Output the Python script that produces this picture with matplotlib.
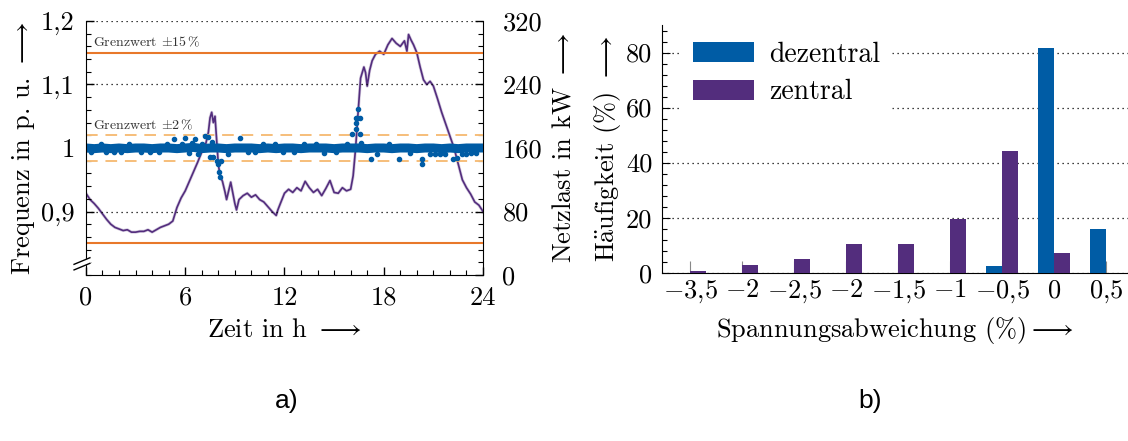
import matplotlib
matplotlib.use("Agg")
import matplotlib.pyplot as plt
from matplotlib.ticker import MultipleLocator

plt.rcParams["font.family"] = ["cmr10", "DejaVu Serif"]
plt.rcParams["mathtext.fontset"] = "cm"
plt.rcParams["axes.unicode_minus"] = False

# --- a) Frequenz und Netzlast ueber den Tag ---
load_t = [0.0, 0.25, 0.5, 0.75, 1.0, 1.25, 1.5, 1.75, 2.0, 2.25, 2.5, 2.75, 3.0, 3.25, 3.5, 3.75,
          4.0, 4.25, 4.5, 4.75, 5.0, 5.25, 5.5, 5.75, 6.0, 6.25, 6.5, 6.75, 7.0, 7.25, 7.4, 7.5,
          7.6, 7.7, 7.8, 7.9, 8.0, 8.1, 8.25, 8.4, 8.5, 8.75, 9.0, 9.1, 9.25, 9.5, 9.75, 10.0,
          10.25, 10.5, 10.75, 11.0, 11.25, 11.5, 11.6, 11.75, 12.0, 12.25, 12.5, 12.75, 13.0,
          13.25, 13.5, 13.75, 14.0, 14.25, 14.5, 14.75, 15.0, 15.25, 15.5, 15.75, 16.0, 16.15,
          16.3, 16.45, 16.6, 16.8, 16.9, 17.0, 17.15, 17.3, 17.5, 17.75, 18.0, 18.25, 18.5,
          18.75, 19.0, 19.25, 19.4, 19.5, 19.65, 19.8, 20.0, 20.2, 20.4, 20.6, 20.8, 21.0,
          21.25, 21.5, 21.75, 22.0, 22.25, 22.5, 22.75, 23.0, 23.25, 23.5, 23.75, 24.0]
load_kw = [103, 95, 90, 84, 77, 70, 64, 60, 58, 56, 57, 54, 54, 55, 55, 57,
           54, 57, 60, 62, 64, 68, 85, 97, 106, 118, 130, 142, 155, 166, 180, 198,
           205, 192, 200, 170, 140, 125, 118, 105, 95, 117, 90, 82, 95, 100, 103, 98,
           101, 95, 92, 86, 80, 75, 82, 90, 103, 108, 104, 110, 106,
           118, 110, 104, 108, 100, 109, 119, 104, 103, 110, 106, 108, 125,
           160, 205, 248, 262, 255, 238, 258, 270, 278, 282, 278, 290, 298,
           292, 288, 295, 282, 303, 296, 290, 280, 262, 246, 240, 244, 238,
           222, 205, 190, 175, 160, 140, 120, 110, 102, 92, 88, 80]

freq_t = [0.0, 0.5, 1.0, 1.5, 2.0, 2.5, 3.0, 3.5, 4.0, 4.5, 5.0, 5.5, 6.0, 6.5, 7.0, 7.5,
          8.0, 8.5, 9.0, 9.5, 10.0, 10.5, 11.0, 11.5, 12.0, 12.5, 13.0, 13.5, 14.0, 14.5,
          15.0, 15.5, 16.0, 16.5, 17.0, 17.5, 18.0, 18.5, 19.0, 19.5, 20.0, 20.5, 21.0,
          21.5, 22.0, 22.5, 23.0, 23.5, 24.0]
freq_v = [1.000, 0.999, 1.000, 0.999, 1.000, 0.999, 1.000, 1.000, 0.999, 1.000, 1.000, 0.999,
          1.000, 1.001, 0.999, 1.000, 1.000, 0.999, 1.000, 1.000, 1.000, 0.999, 1.000, 0.999,
          1.000, 1.000, 0.999, 1.000, 1.000, 1.000, 0.999, 1.000, 1.000, 1.000, 0.999, 1.000,
          1.000, 0.999, 1.000, 1.000, 0.999, 1.000, 1.000, 0.999, 1.000, 0.999, 1.000, 1.000,
          1.000]

freq_out_t = [0.3, 0.9, 1.2, 1.7, 2.1, 2.6, 3.3, 3.9, 4.4, 4.9, 5.3, 5.8, 6.0, 6.2, 6.4, 6.6,
              6.8, 7.0, 7.2, 7.4, 7.6, 7.5, 7.7, 7.9, 8.0, 8.05, 8.1, 8.15, 8.6, 9.3, 9.8,
              10.2, 10.7, 11.4, 11.9, 12.6, 13.2, 13.9, 14.4, 15.1, 15.8, 16.06, 16.3, 16.3,
              16.35, 16.4, 16.47, 16.56, 16.56, 16.6, 17.2, 17.6, 18.3, 18.9, 19.6, 20.3, 20.3,
              20.8, 21.1, 21.4, 21.7, 22.2, 22.4, 22.7, 23.0, 23.3, 23.6]
freq_out_v = [0.993, 1.006, 0.994, 0.993, 0.993, 1.006, 0.994, 0.993, 0.993, 1.006, 1.014,
              1.006, 1.016, 0.992, 1.008, 1.014, 0.990, 1.007, 1.019, 1.017, 1.009, 0.986,
              0.986, 0.980, 0.975, 0.962, 0.954, 0.980, 0.991, 1.015, 0.993, 0.993, 1.006,
              1.006, 0.993, 0.993, 1.006, 1.006, 0.992, 0.993, 1.007, 1.022, 1.030, 1.040,
              1.048, 1.047, 1.061, 1.047, 1.022, 1.008, 0.983, 0.990, 1.007, 0.983, 0.992,
              0.975, 0.983, 0.991, 0.991, 0.990, 0.990, 0.982, 0.985, 0.991, 0.991, 0.992,
              0.992]

# --- b) Haeufigkeit der Spannungsabweichung ---
categories = ["$-3{,}5$", "$-2$", "$-2{,}5$", "$-2$", "$-1{,}5$", "$-1$", "$-0{,}5$", "$0$", "$0{,}5$"]
dezentral = [0, 0, 0, 0, 0, 0, 2.4, 81.6, 15.9]
zentral = [0.6, 2.8, 5.0, 10.4, 10.3, 19.5, 44.3, 7.0, 0]

c_blue = "#005CA5"
c_purple = "#532D7D"
c_orange = "#E8782A"
c_lorange = "#F6BE7A"
fs = 19

fig = plt.figure(figsize=(11.28, 4.41), dpi=100)

# left chart
ax = fig.add_axes([0.0762, 0.3764, 0.352, 0.576])
ax2 = ax.twinx()
ax.set_zorder(ax2.get_zorder() + 1)
ax.patch.set_visible(False)

ax2.plot(load_t, load_kw, color=c_purple, linewidth=2.2, alpha=0.25)
ax2.plot(load_t, load_kw, color=c_purple, linewidth=1.2)
ax2.set_ylim(0, 320)
ax2.set_yticks([0, 80, 160, 240, 320])
ax2.yaxis.set_minor_locator(MultipleLocator(16))

ax.axhline(1.15, color=c_orange, linewidth=1.5)
ax.axhline(0.85, color=c_orange, linewidth=1.5)
ax.axhline(1.02, color=c_lorange, linewidth=1.4, dashes=(6, 4))
ax.axhline(0.98, color=c_lorange, linewidth=1.4, dashes=(6, 4))
ax.plot(freq_t, freq_v, color=c_blue, linewidth=6.5, solid_capstyle="butt")
ax.plot(freq_out_t, freq_out_v, "o", color=c_blue, markersize=3, linestyle="none")

ax.set_xlim(0, 24)
ax.set_ylim(0.8, 1.2)
ax.set_xticks([0, 6, 12, 18, 24])
ax.xaxis.set_minor_locator(MultipleLocator(1))
ax.set_yticks([0.9, 1.0, 1.1, 1.2])
ax.set_yticklabels(["0,9", "1", "1,1", "1,2"])
ax.yaxis.set_minor_locator(MultipleLocator(0.02))
ax.grid(axis="y", which="major", color="black", linestyle=(0, (1, 3)), linewidth=0.9)

for a in (ax, ax2):
    a.spines["top"].set_visible(False)
    a.tick_params(direction="in", which="major", length=6, width=1.0, labelsize=fs)
    a.tick_params(direction="in", which="minor", length=3.5, width=0.8)
ax.tick_params(axis="x", pad=8)
ax.tick_params(axis="y", pad=8)
ax2.tick_params(axis="y", pad=14)
ax2.spines["left"].set_visible(False)
ax2.spines["bottom"].set_visible(False)
ax.spines["right"].set_visible(False)

ax.text(0.45, 1.16, "Grenzwert $\\pm$15$\\,$%", fontsize=10, color="#333333")
ax.text(0.45, 1.03, "Grenzwert $\\pm$2$\\,$%", fontsize=10, color="#333333")

ax.set_xlabel("Zeit in h $\\longrightarrow$", fontsize=fs, labelpad=6)
ax.set_ylabel("Frequenz in p. u. $\\longrightarrow$", fontsize=fs, labelpad=3)
ax2.set_ylabel("Netzlast in kW $\\longrightarrow$", fontsize=fs, labelpad=7)

# axis break marker
ax.plot([-0.03, 0.01], [0.025, 0.058], transform=ax.transAxes, color="white",
        linewidth=4, clip_on=False, zorder=10)
for dy in (0.0, 0.022):
    ax.plot([-0.03, 0.01], [0.02 + dy, 0.046 + dy], transform=ax.transAxes, color="black",
            linewidth=1.0, clip_on=False, zorder=11)

# right chart
bx = fig.add_axes([0.5869, 0.3816, 0.4131, 0.5617])
pos = list(range(len(categories)))
w = 0.31
bx.bar([p - w / 2 for p in pos], dezentral, width=w, color=c_blue, label="dezentral", zorder=3)
bx.bar([p + w / 2 for p in pos], zentral, width=w, color=c_purple, label="zentral", zorder=3)
bx.set_xlim(-0.54, 8.42)
bx.set_ylim(0, 90)
bx.set_xticks(pos)
bx.set_xticklabels(categories)
bx.set_yticks([0, 20, 40, 60, 80])
bx.yaxis.set_minor_locator(MultipleLocator(4))
bx.grid(axis="y", which="major", color="black", linestyle=(0, (1, 3)), linewidth=0.9, zorder=0)
bx.spines["top"].set_visible(False)
bx.spines["right"].set_visible(False)
bx.tick_params(axis="y", direction="in", which="major", length=6, labelsize=fs, pad=7)
bx.tick_params(axis="y", direction="in", which="minor", length=3.5, width=0.8)
bx.tick_params(axis="x", direction="in", length=9, color="#888888", labelsize=fs, pad=4)
bx.set_ylabel("$\\mathrm{H\\ddot{a}ufigkeit}$ (%) $\\longrightarrow$", fontsize=fs, labelpad=2)
bx.set_xlabel("Spannungsabweichung (%)$\\longrightarrow$", fontsize=fs)
bx.xaxis.set_label_coords(0.5, -0.17)
leg = bx.legend(loc="upper left", bbox_to_anchor=(0.03, 1.0), frameon=True, fontsize=20,
                handlelength=2.2, handleheight=0.75, borderaxespad=0.2, labelspacing=0.4,
                handletextpad=0.55, fancybox=False, edgecolor="white", framealpha=1.0)
leg.set_zorder(5)

fig.text(0.254, 0.09, "a)", fontsize=19, family="Liberation Sans", ha="center", va="center")
fig.text(0.771, 0.09, "b)", fontsize=19, family="Liberation Sans", ha="center", va="center")

fig.savefig("out.png", dpi=100)
